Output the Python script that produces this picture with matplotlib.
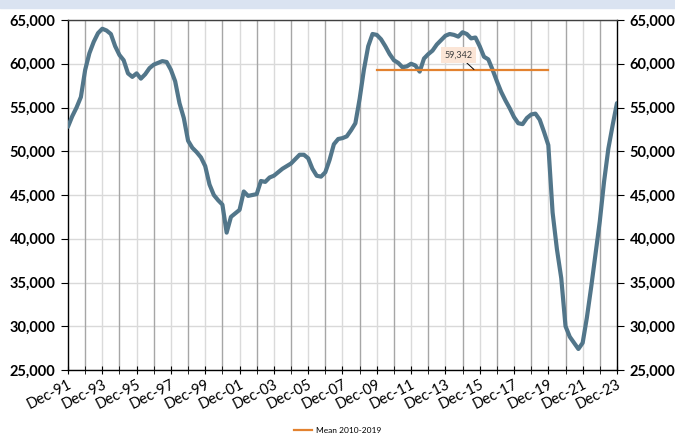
import numpy as np
import pandas as pd
import matplotlib
matplotlib.use("Agg")
import matplotlib.pyplot as plt
from matplotlib.ticker import FuncFormatter

# quarterly readings, Dec-91 .. Dec-23
values = [
    52800, 54000, 55000, 56200, 59300, 61200, 62500, 63500,   # 91-93
    64000, 63800, 63400, 62000, 61000, 60400, 58900, 58500,   # 93-95
    58900, 58300, 58800, 59500, 59900, 60100, 60300, 60200,   # 95-97
    59300, 58000, 55500, 53800, 51200, 50400, 49900, 49300,   # 97-99
    48300, 46200, 45000, 44400, 43900, 40700, 42500, 42900,   # 99-01
    43300, 45400, 44900, 45000, 45100, 46600, 46500, 47000,   # 01-03
    47200, 47600, 48000, 48300, 48600, 49100, 49600, 49600,   # 03-05
    49200, 48000, 47200, 47100, 47600, 49000, 50800, 51400,   # 05-07
    51500, 51700, 52400, 53200, 56000, 59300, 62000, 63400,   # 07-09
    63300, 62800, 62000, 61100, 60400, 60100, 59600, 59700,   # 09-11
    60000, 59800, 59100, 60600, 61100, 61500, 62200, 62700,   # 11-13
    63200, 63400, 63300, 63100, 63600, 63400, 62900, 63000,   # 13-15
    62000, 60800, 60500, 59300, 58000, 56800, 55800, 54900,   # 15-17
    53900, 53200, 53100, 53800, 54200, 54300, 53600, 52200,   # 17-19
    50700, 43000, 38800, 35500, 30000, 28800, 28100, 27400,   # 19-21
    28100, 31000, 34500, 38300, 42000, 46500, 50300, 53000,   # 21-23
    55500,
]
dates = pd.date_range("1991-12-01", periods=len(values), freq="3MS")

mean_value = 59342
mean_start, mean_end = pd.Timestamp("2009-12-01"), pd.Timestamp("2019-12-01")

tick_years = list(range(1991, 2024, 2))
tick_labels = ["Dec-%02d" % (y % 100) for y in tick_years]

line_col = "#52768A"
mean_col = "#E3822F"

fig = plt.figure(figsize=(6.75, 4.33), dpi=100)
fig.patches.append(plt.Rectangle((0, 0.981), 1, 0.019, transform=fig.transFigure,
                                 color="#DAE3F1", zorder=0))
ax = fig.add_axes([0.1007, 0.1455, 0.8133, 0.8083])

# grid: light horizontals, darker verticals on even Decembers
for v in range(25000, 65001, 5000):
    ax.axhline(v, color="#D9D9D9", lw=1, zorder=1)
for y in range(1992, 2023):
    c = "#A6A6A6" if y % 2 == 0 else "#DADADA"
    ax.axvline(pd.Timestamp(f"{y}-12-01"), color=c, lw=1, zorder=1)

ax.plot(dates, values, color=line_col, lw=3, zorder=3, solid_capstyle="round")
ax.plot([mean_start, mean_end], [mean_value, mean_value], color=mean_col, lw=1.6,
        zorder=4, label="Mean 2010-2019")

# data label
ax.annotate(f"{mean_value:,}", xy=(pd.Timestamp("2015-08-01"), mean_value),
            xytext=(pd.Timestamp("2014-09-01"), mean_value + 1650),
            ha="center", va="center", fontsize=6.5, color="#404040", family="Lato",
            bbox=dict(boxstyle="square,pad=0.35", fc="#FBE5D6", ec="none"),
            arrowprops=dict(arrowstyle="-", color="black", lw=0.7,
                            shrinkA=0, shrinkB=0), zorder=5)

ax.set_xlim(dates[0], dates[-1])
ax.set_ylim(25000, 65000)
ax.set_yticks(range(25000, 65001, 5000))
ax.yaxis.set_major_formatter(FuncFormatter(lambda v, p: f"{int(v):,}"))
ax.tick_params(axis="y", which="both", labelright=True, right=True, direction="out",
               length=5, labelsize=10.5, pad=4)

ax.set_xticks([pd.Timestamp(f"{y}-12-01") for y in tick_years])
ax.set_xticklabels(tick_labels, rotation=27, ha="right", rotation_mode="anchor")
ax.set_xticks([pd.Timestamp(f"{y}-12-01") for y in range(1992, 2023, 2)], minor=True)
ax.tick_params(axis="x", which="both", direction="inout", length=6, pad=2,
               labelsize=10.5)

fig.canvas.draw()
for t in ax.yaxis.majorTicks:
    for lab in (t.label1, t.label2):
        lab.set_family("Lato")
        lab.set_fontweight("bold")
for t in ax.xaxis.majorTicks:
    t.label1.set_family("Lato")

for s in ["left", "right", "bottom", "top"]:
    ax.spines[s].set_color("black")
    ax.spines[s].set_linewidth(1)
ax.spines["top"].set_color("#404040")

fig.legend(loc="lower center", bbox_to_anchor=(0.5, -0.02), frameon=False,
           handlelength=2.2, handletextpad=0.4, prop={"family": "Lato", "size": 6})

fig.savefig("out.png", dpi=100)
